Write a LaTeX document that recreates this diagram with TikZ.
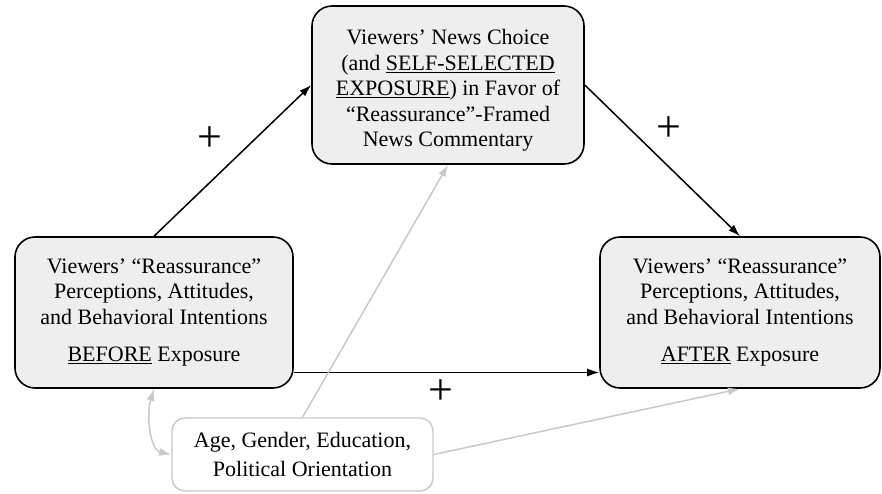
\documentclass[tikz,border=0pt]{standalone}
\usepackage{fontspec}
\setmainfont{Liberation Serif}
\usetikzlibrary{arrows,arrows.meta,shapes,calc}
\definecolor{boxgray}{RGB}{238,238,238}
\definecolor{linegray}{RGB}{198,202,202}

\begin{document}
\begin{tikzpicture}[x=1pt,y=-1pt]

		\tikzstyle{every node}=[font=\fontsize{22}{25.5}\selectfont]
		\tikzstyle{mainbox}=[draw,line width=1.6pt,rounded corners=20pt,fill=boxgray,align=center,inner sep=0pt]
		\tikzstyle{ctrlbox}=[draw=linegray,line width=1.4pt,rounded corners=13pt,fill=white,align=center,inner sep=0pt]
		\tikzstyle{plus}=[font=\fontsize{44}{44}\selectfont]
		\tikzstyle{path}=[line width=1.5pt,-{Latex[length=12pt,width=8pt]}]
		\tikzstyle{ctrlpath}=[linegray,line width=1.5pt,-{Latex[length=12pt,width=8pt]}]
		\useasboundingbox (0,0) rectangle (882,493);

		\node[mainbox,minimum width=272pt,minimum height=158pt] (choice) at (448,85) {\rule{0pt}{26pt}Viewers’ News Choice\\(and \underline{SELF-SELECTED}\\\underline{EXPOSURE}) in Favor of\\“Reassurance”-Framed\\News Commentary};

		\node[mainbox,minimum width=278pt,minimum height=151pt] (before) at (154,312.5) {Viewers’ “Reassurance”\\Perceptions, Attitudes,\\and Behavioral Intentions\\[12pt]\underline{BEFORE} Exposure};

		\node[mainbox,minimum width=280pt,minimum height=151pt] (after) at (740,312.5) {Viewers’ “Reassurance”\\Perceptions, Attitudes,\\and Behavioral Intentions\\[12pt]\underline{AFTER} Exposure};

		\node[ctrlbox,minimum width=261pt,minimum height=73pt] (ctrl) at (302.5,454.5) {Age, Gender, Education,\\[4pt]Political Orientation};

		% paths between the boxes
		\draw[path] (before.north) -- (choice.west);
		\draw[path] (choice.east) -- (after.north);
		\coordinate (h) at ($(before.east)+(0,60)$);
		\draw[path] (h) -- (h -| after.west);

		% control variables
		\draw[ctrlpath] (ctrl.north) -- (choice.south);
		\draw[ctrlpath] (ctrl.east) -- (after.south);
		\draw[ctrlpath,{Latex[length=12pt,width=8pt]}-{Latex[length=12pt,width=8pt]}] (before.south) .. controls (146,415) and (150,450) .. (ctrl.west);

		\node[plus] (p1) at (210,139) {+};
		\node[plus] (p2) at (669,129) {+};
		\node[plus] (p3) at (441,392) {+};

\end{tikzpicture}
\end{document}
